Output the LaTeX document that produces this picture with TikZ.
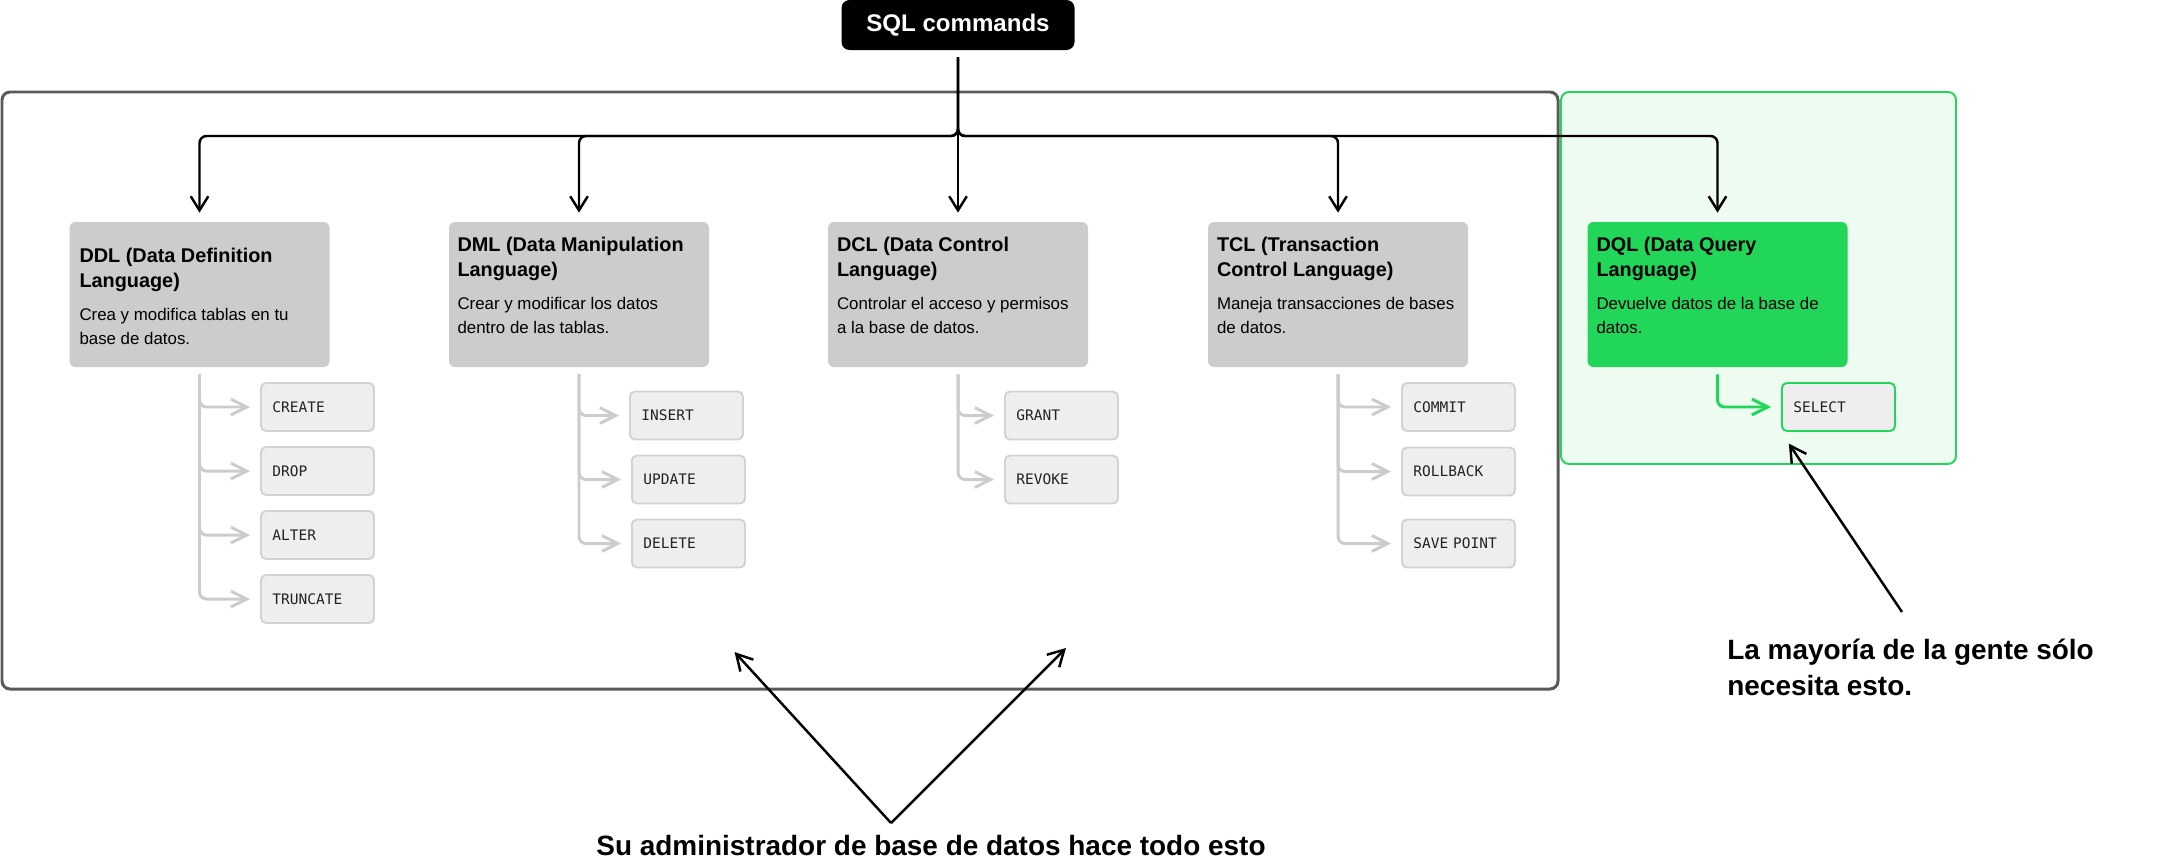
\documentclass[tikz,border=0pt]{standalone}
\usepackage{fontspec}
\setmainfont{Liberation Sans}
\setmonofont{DejaVu Sans Mono}
\usetikzlibrary{arrows.meta,positioning}

\definecolor{catgray}{HTML}{CCCCCC}
\definecolor{framegray}{HTML}{5A5A5A}
\definecolor{dqlgreen}{HTML}{22D65A}
\definecolor{panelgreen}{HTML}{EEFBF1}
\definecolor{cmdfill}{HTML}{EEEEEE}
\definecolor{cmdline}{HTML}{D2D2D2}
\definecolor{cmdtext}{HTML}{222222}

\begin{document}
\begin{tikzpicture}[
    every node/.style={align=left, inner sep=0pt},
    sqlbox/.style={fill=black, text=white, rounded corners=0.16cm, minimum width=4.66cm, minimum height=1.0cm, align=center, font=\bfseries\fontsize{13.7}{16}\selectfont},
    catbox/.style={fill=catgray, rounded corners=0.12cm, minimum width=5.2cm, minimum height=2.9cm},
    dqlbox/.style={catbox, fill=dqlgreen},
    cattitle/.style={font=\bfseries\fontsize{11.3}{14.2}\selectfont},
    catdesc/.style={font=\fontsize{9.6}{13.66}\selectfont},
    cmdbox/.style={draw=cmdline, fill=cmdfill, line width=1.1pt, rounded corners=0.1cm, minimum width=2.26cm, minimum height=0.96cm, text width=1.8cm, inner xsep=0.23cm, text=cmdtext, font=\ttfamily\fontsize{8.25}{10}\selectfont},
    selbox/.style={cmdbox, draw=dqlgreen},
    flow/.style={-{Straight Barb[length=8pt,width=10pt]}, line width=1.4pt, rounded corners=0.14cm, shorten >=0.18cm},
    subflow/.style={-{Straight Barb[length=9pt,width=9pt]}, draw=catgray, line width=1.7pt, rounded corners=0.14cm, shorten >=0.2cm},
    selflow/.style={subflow, draw=dqlgreen},
    note/.style={-{Straight Barb[length=9pt,width=10pt]}, line width=1.4pt},
    notetext/.style={font=\bfseries\fontsize{15.9}{20.5}\selectfont}
]

\useasboundingbox (0,0) rectangle (43.26,-17.26);

% -------------------------------------------------
% FRAMES
% -------------------------------------------------
\draw[framegray, line width=1.7pt, rounded corners=0.16cm] (0.04,-1.84) rectangle (31.16,-13.78);
\draw[dqlgreen, fill=panelgreen, line width=1.1pt, rounded corners=0.16cm] (31.22,-1.84) rectangle (39.12,-9.28);

% -------------------------------------------------
% ROOT
% -------------------------------------------------
\node[sqlbox] (sql) at (19.16,-0.5) {SQL commands};

% category boxes
\node[catbox] (ddl) at (3.99,-5.89) {};
\node[catbox] (dml) at (11.58,-5.89) {};
\node[catbox] (dcl) at (19.16,-5.89) {};
\node[catbox] (tcl) at (26.76,-5.89) {};
\node[dqlbox] (dql) at (34.35,-5.89) {};

% arrows from root
\coordinate (bus) at (0,-2.72);
\draw[flow] ([yshift=-0.14cm]sql.south) |- (bus -| ddl.north) -- (ddl.north);
\draw[flow] ([yshift=-0.14cm]sql.south) |- (bus -| dml.north) -- (dml.north);
\draw[flow] ([yshift=-0.14cm]sql.south) -- (dcl.north);
\draw[flow] ([yshift=-0.14cm]sql.south) |- (bus -| tcl.north) -- (tcl.north);
\draw[flow] ([yshift=-0.14cm]sql.south) |- (bus -| dql.north) -- (dql.north);

% -------------------------------------------------
% BOX TEXTS
% -------------------------------------------------
\node[cattitle, below right=0.52cm and 0.2cm of ddl.north west] (ddlT) {DDL (Data Definition\\Language)};
\node[catdesc, below right=1.72cm and 0.2cm of ddl.north west] (ddlD) {Crea y modifica tablas en tu\\base de datos.};

\node[cattitle, below right=0.3cm and 0.17cm of dml.north west] (dmlT) {DML (Data Manipulation\\Language)};
\node[catdesc, below right=1.5cm and 0.17cm of dml.north west] (dmlD) {Crear y modificar los datos\\dentro de las tablas.};

\node[cattitle, below right=0.3cm and 0.18cm of dcl.north west] (dclT) {DCL (Data Control\\Language)};
\node[catdesc, below right=1.5cm and 0.18cm of dcl.north west] (dclD) {Controlar el acceso y permisos\\a la base de datos.};

\node[cattitle, below right=0.3cm and 0.18cm of tcl.north west] (tclT) {TCL (Transaction\\Control Language)};
\node[catdesc, below right=1.5cm and 0.18cm of tcl.north west] (tclD) {Maneja transacciones de bases\\de datos.};

\node[cattitle, below right=0.3cm and 0.18cm of dql.north west] (dqlT) {DQL (Data Query\\Language)};
\node[catdesc, below right=1.5cm and 0.18cm of dql.north west] (dqlD) {Devuelve datos de la base de\\datos.};

% -------------------------------------------------
% COMMANDS
% -------------------------------------------------
\node[cmdbox, anchor=west] (create)   at (5.2,-8.14)   {CREATE};
\node[cmdbox, anchor=west] (drop)     at (5.2,-9.42)   {DROP};
\node[cmdbox, anchor=west] (alter)    at (5.2,-10.70)  {ALTER};
\node[cmdbox, anchor=west] (truncate) at (5.2,-11.98)  {TRUNCATE};

\node[cmdbox, anchor=west] (insert) at (12.58,-8.31)  {INSERT};
\node[cmdbox, anchor=west] (update) at (12.62,-9.59)  {UPDATE};
\node[cmdbox, anchor=west] (delete) at (12.62,-10.87) {DELETE};

\node[cmdbox, anchor=west] (grant)  at (20.08,-8.31) {GRANT};
\node[cmdbox, anchor=west] (revoke) at (20.08,-9.59) {REVOKE};

\node[cmdbox, anchor=west] (commit)    at (28.02,-8.14)  {COMMIT};
\node[cmdbox, anchor=west] (rollback)  at (28.02,-9.43)  {ROLLBACK};
\node[cmdbox, anchor=west] (savepoint) at (28.02,-10.87) {SAVE POINT};

\node[selbox, anchor=west] (select) at (35.62,-8.14) {SELECT};

% branches
\foreach \cat/\cmd in {ddl/create, ddl/drop, ddl/alter, ddl/truncate,
                       dml/insert, dml/update, dml/delete,
                       dcl/grant, dcl/revoke,
                       tcl/commit, tcl/rollback, tcl/savepoint}
    \draw[subflow] ([yshift=-0.14cm]\cat.south) |- (\cmd.west);
\draw[selflow] ([yshift=-0.14cm]dql.south) |- (select.west);

% -------------------------------------------------
% NOTES
% -------------------------------------------------
\coordinate (apex) at (17.82,-16.46);
\coordinate (tipL) at (14.69,-13.04);
\coordinate (tipR) at (21.32,-12.96);
\draw[note] (apex) -- (tipL);
\draw[note] (apex) -- (tipR);
\node[notetext, anchor=base] (dbatext) at (18.62,-17.1) {Su administrador de base de datos hace todo esto};

\coordinate (tail) at (38.04,-12.24);
\draw[note, shorten >=0.28cm] (tail) -- (select.south west);
\node[notetext, anchor=north west] (usertext) at (34.54,-12.77) {La mayoría de la gente sólo\\necesita esto.};

\end{tikzpicture}
\end{document}
